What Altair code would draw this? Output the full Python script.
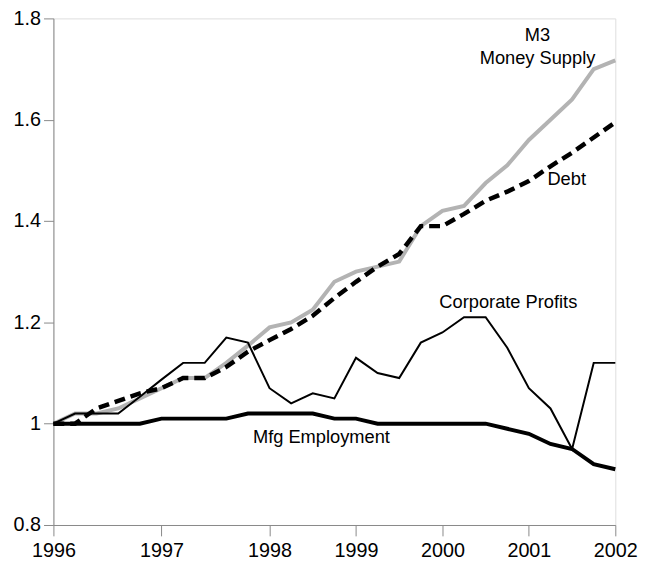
import altair as alt
import pandas as pd

# quarter index 0..26 (irregular year ticks on the original category axis)
quarters = list(range(27))
year_labels = ["1996", "1997", "1998", "1999", "2000", "2001", "2002"]
year_ticks = [0, 5, 10, 14, 18, 22, 26]

m3 = [1.00, 1.02, 1.02, 1.03, 1.05, 1.07, 1.09, 1.09, 1.12, 1.154, 1.19, 1.20, 1.225,
      1.28, 1.30, 1.31, 1.32, 1.39, 1.42, 1.43, 1.475, 1.51, 1.56, 1.60, 1.64, 1.70, 1.717]
debt = [1.00, 1.00, 1.03, 1.045, 1.06, 1.07, 1.09, 1.09, 1.112, 1.142, 1.165, 1.187, 1.213,
        1.248, 1.28, 1.31, 1.335, 1.39, 1.39, 1.414, 1.44, 1.458, 1.479, 1.508, 1.535, 1.565, 1.595]
profits = [1.00, 1.02, 1.02, 1.02, 1.053, 1.087, 1.12, 1.12, 1.17, 1.16, 1.07, 1.04, 1.06,
           1.05, 1.13, 1.10, 1.09, 1.16, 1.18, 1.21, 1.21, 1.15, 1.07, 1.03, 0.95, 1.12, 1.12]
mfg = [1.00, 1.00, 1.00, 1.00, 1.00, 1.01, 1.01, 1.01, 1.01, 1.02, 1.02, 1.02, 1.02,
       1.01, 1.01, 1.00, 1.00, 1.00, 1.00, 1.00, 1.00, 0.99, 0.98, 0.96, 0.95, 0.92, 0.91]

y_ticks = [0.8, 1.0, 1.2, 1.4, 1.6, 1.8]

ann_text = ["M3", "Money Supply", "Debt", "Corporate Profits", "Mfg Employment"]
ann_x = [22.4, 22.4, 23.75, 21.05, 12.4]
ann_y = [1.767, 1.722, 1.483, 1.2395, 0.973]

FONT = "Liberation Sans"

label_expr = "{}[indexof({}, datum.value)]".format(
    "[" + ",".join("'%s'" % s for s in year_labels) + "]",
    "[" + ",".join(str(v) for v in year_ticks) + "]",
)

xscale = alt.Scale(domain=[0, 26], nice=False, zero=False)
yscale = alt.Scale(domain=[0.8, 1.8], nice=False, zero=False)

xaxis = alt.Axis(values=year_ticks, labelExpr=label_expr, title=None, grid=False,
                 tickSize=11, labelPadding=5, labelFontSize=20, labelFlush=False,
                 labelOverlap=False)
yaxis = alt.Axis(values=y_ticks, format="~g", title=None, grid=False,
                 tickSize=10, labelPadding=3, labelFontSize=20, labelFlush=False,
                 labelOverlap=False)


def series_df(vals):
    return pd.DataFrame({"q": quarters, "v": vals})


def line(vals, **style):
    return alt.Chart(series_df(vals)).mark_line(**style).encode(
        x=alt.X("q:Q", scale=xscale, axis=xaxis),
        y=alt.Y("v:Q", scale=yscale, axis=yaxis),
    )


l_m3 = line(m3, color="#b3b3b3", strokeWidth=4)
l_debt = line(debt, color="black", strokeWidth=4.5, strokeDash=[11, 6])
l_prof = line(profits, color="black", strokeWidth=2)
l_mfg = line(mfg, color="black", strokeWidth=4)

ann = alt.Chart(pd.DataFrame({"t": ann_text, "x": ann_x, "y": ann_y})).mark_text(
    font=FONT, fontSize=18.5, color="black", align="center", baseline="middle"
).encode(
    x=alt.X("x:Q", scale=xscale, axis=xaxis),
    y=alt.Y("y:Q", scale=yscale, axis=yaxis),
    text="t:N",
)

chart = alt.layer(l_m3, l_debt, l_prof, l_mfg, ann).properties(
    width=569, height=513,
    autosize=alt.AutoSizeParams(type="none"),
    padding={"left": 46, "top": 7, "right": 25, "bottom": 39},
).configure_view(stroke=None).configure_axis(
    labelFont=FONT, labelColor="black", domainColor="black", tickColor="black",
    domainWidth=1.5, tickWidth=1.5,
).configure(background="white")

chart.save("out.html", embed_options={"renderer": "svg", "actions": False})
